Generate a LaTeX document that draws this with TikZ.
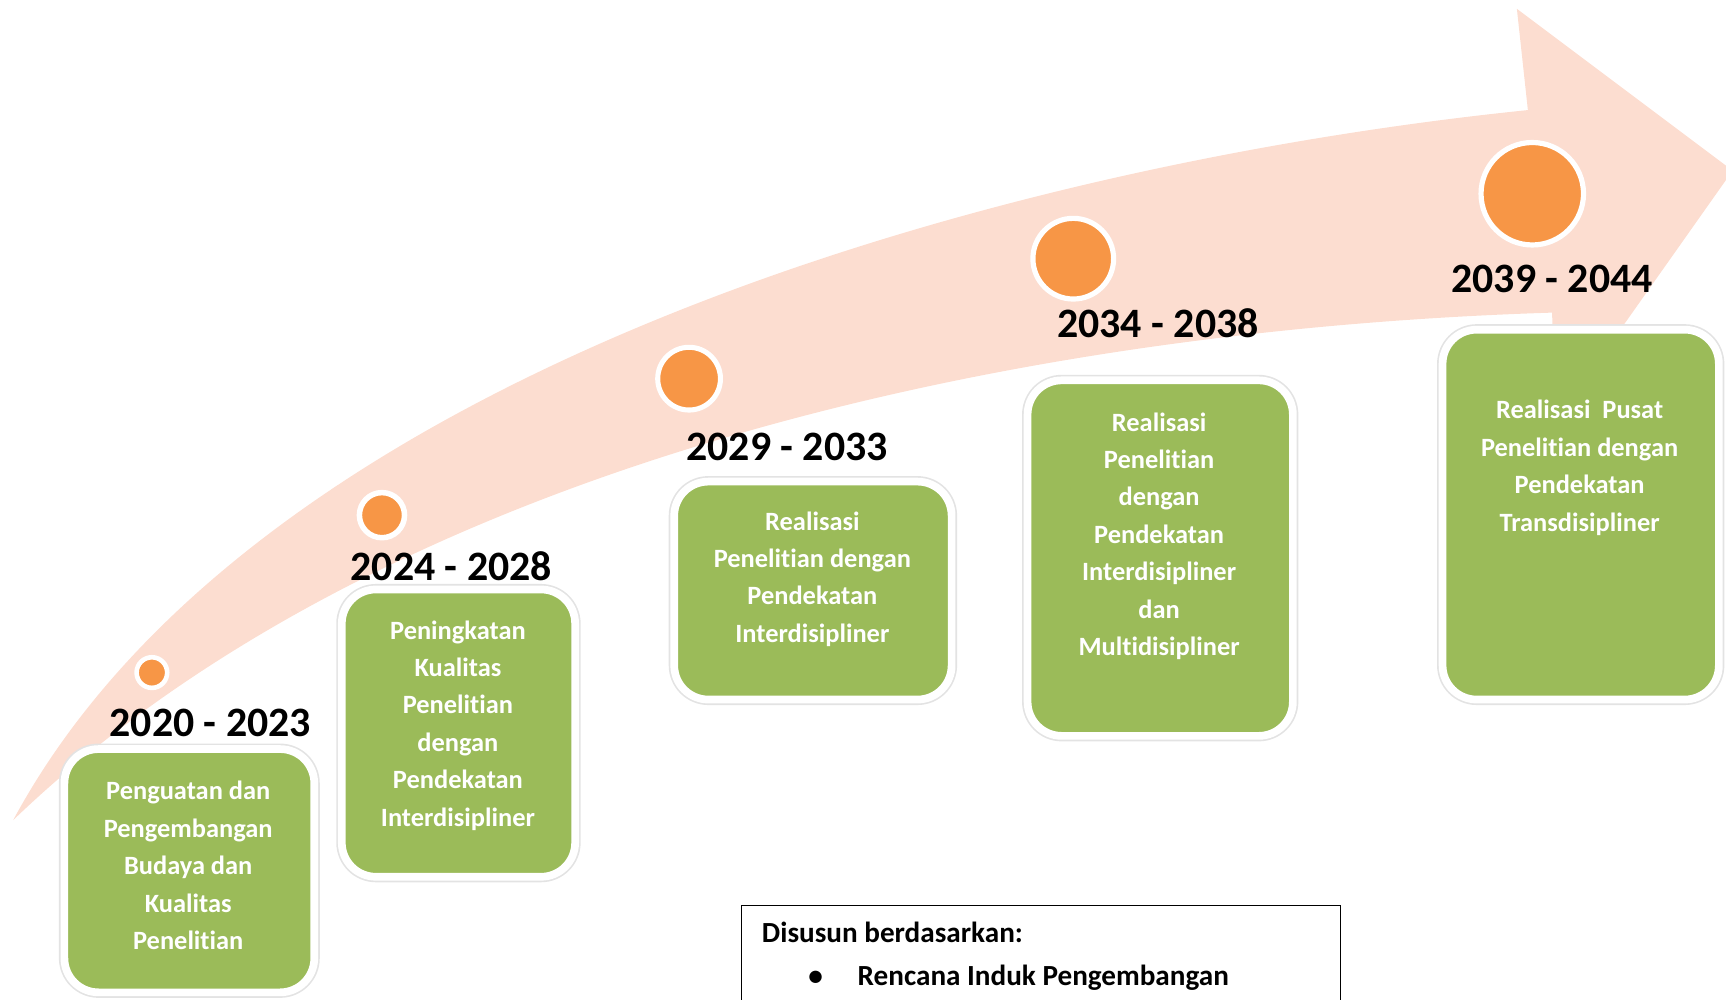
\documentclass[tikz,border=0pt]{standalone}
\usepackage{fontspec}
\setmainfont{Carlito}[Ligatures=NoCommon]
\definecolor{arrowpink}{RGB}{252,221,208}
\definecolor{dotorange}{RGB}{247,150,70}
\definecolor{boxgreen}{RGB}{155,187,89}
\begin{document}
\begin{tikzpicture}[x=1pt,y=-1pt,
  yearlabel/.style={font=\fontsize{38}{40}\selectfont\bfseries, inner sep=0pt, text=black},
  dot/.style={circle, fill=dotorange, draw=white, inner sep=0pt},
  gbox/.style={rectangle, rounded corners=31pt, fill=boxgreen, draw=white, line width=7pt, inner sep=0pt,
               preaction={draw=black!11, line width=10pt}},
  gtext/.style={font=\fontsize{24}{34}\selectfont\bfseries, text=white, align=center, inner sep=0pt, anchor=north},
  notetext/.style={font=\fontsize{26.5}{30}\selectfont\bfseries, inner sep=0pt, text=black}
]
\useasboundingbox (0,0) rectangle (1568,907.6);
\clip (0,0) rectangle (1568,907.6);

% curved arrow
\fill[arrowpink] (12,745) .. controls (230,340) and (900,150) .. (1388,100)
  -- (1378,8) -- (1574,155) -- (1413,383) -- (1410,284)
  .. controls (900,300) and (340,430) .. (12,745) -- cycle;

% milestone dots
\node[dot, minimum size=27.8pt, line width=4.2pt] (c1) at (138,611) {};
\node[dot, minimum size=41pt, line width=5pt] (c2) at (347,468) {};
\node[dot, minimum size=57pt, line width=4.6pt] (c3) at (626,344) {};
\node[dot, minimum size=73.3pt, line width=4.7pt] (c4) at (975,235) {};
\node[dot, minimum size=93.1pt, line width=4.7pt] (c5) at (1392,176) {};

% year labels
\node[yearlabel] (y1) at (191,657) {2020 - 2023};
\node[yearlabel] (y2) at (410,514) {2024 - 2028};
\node[yearlabel] (y3) at (715,406) {2029 - 2033};
\node[yearlabel] (y4) at (1052,294) {2034 - 2038};
\node[yearlabel] (y5) at (1410,253) {2039 - 2044};

% green boxes
\node[gbox, minimum width=227pt, minimum height=221pt] (b1) at (172,791) {};
\node[gbox, minimum width=212pt, minimum height=261pt] (b2) at (416.5,666) {};
\node[gbox, minimum width=252pt, minimum height=198pt] (b3) at (738.5,536.5) {};
\node[gbox, minimum width=241pt, minimum height=323pt] (b4) at (1054,507) {};
\node[gbox, minimum width=251pt, minimum height=336pt] (b5) at (1436,467.5) {};

% box texts
\node[gtext] (t1) at (171,709.5) {Penguatan dan\\Pengembangan\\Budaya dan\\Kualitas\\Penelitian};
\node[gtext] (t2) at (416,563.5) {Peningkatan\\Kualitas\\Penelitian\\dengan\\Pendekatan\\Interdisipliner};
\node[gtext] (t3) at (738,464.5) {Realisasi\\Penelitian dengan\\Pendekatan\\Interdisipliner};
\node[gtext] (t4) at (1053,374.5) {Realisasi\\Penelitian\\dengan\\Pendekatan\\Interdisipliner\\dan\\Multidisipliner};
\node[gtext] (t5) at (1435,363.5) {Realisasi\ \ Pusat\\Penelitian dengan\\Pendekatan\\Transdisipliner};

% note box
\node[draw=black, line width=1.2pt, fill=white, rectangle, inner sep=0pt, anchor=north west,
      minimum width=544pt, minimum height=110pt] (note) at (673,822) {};
\node[notetext, anchor=base west] (n1) at (692,856.5) {Disusun berdasarkan:};
\node[notetext, anchor=base] (n2) at (741,895) {•};
\node[notetext, anchor=base west] (n3) at (779,895) {Rencana Induk Pengembangan};
\end{tikzpicture}
\end{document}
